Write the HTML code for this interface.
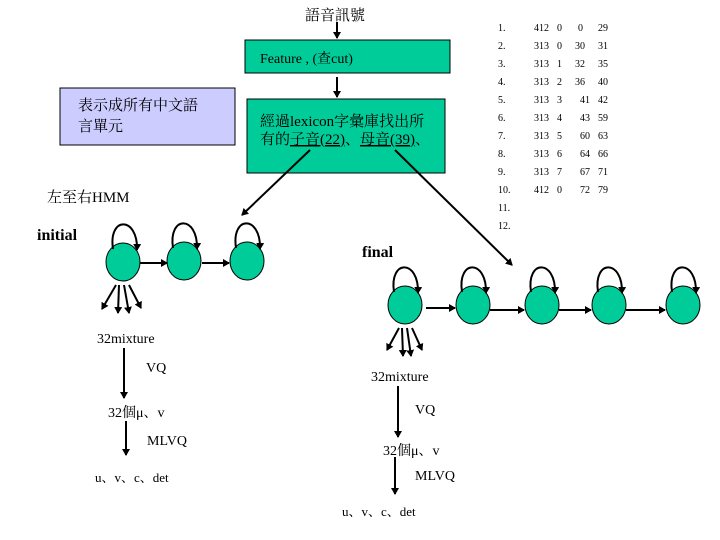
<!DOCTYPE html>
<html><head><meta charset="utf-8"><style>
html,body{margin:0;padding:0;background:#fff;}
svg{display:block;}
text{font-family:"Liberation Serif","Noto Serif CJK SC","Noto Sans CJK TC",serif;fill:#000;}
.t{font-size:10px;}
</style></head><body>
<svg width="720" height="540" viewBox="0 0 720 540" xmlns="http://www.w3.org/2000/svg">
<defs>
<marker id="a" markerWidth="8" markerHeight="8" refX="6" refY="4" orient="auto" markerUnits="userSpaceOnUse"><path d="M0,0 L7,4 L0,8 z" fill="#000"/></marker>
</defs>
<text x="305" y="20" font-size="15">語音訊號</text>
<line x1="337" y1="22" x2="337" y2="38" stroke="#000" stroke-width="2" marker-end="url(#a)"/>
<rect x="245" y="40" width="205" height="33" fill="#00cc99" stroke="#000"/>
<text x="260" y="63" font-size="14">Feature , (查cut)</text>
<line x1="337" y1="77" x2="337" y2="97" stroke="#000" stroke-width="2" marker-end="url(#a)"/>
<rect x="247" y="99" width="198" height="74" fill="#00cc99" stroke="#000"/>
<text x="260" y="126" font-size="15">經過lexicon字彙庫找出所</text>
<text x="260" y="144" font-size="15">有的<tspan text-decoration="underline">子音(22)</tspan>、<tspan text-decoration="underline">母音(39)</tspan>、</text>
<rect x="60" y="88" width="175" height="57" fill="#ccccff" stroke="#000"/>
<text x="78" y="110" font-size="15">表示成所有中文語</text>
<text x="78" y="131" font-size="15">言單元</text>
<line x1="310" y1="150" x2="242" y2="215" stroke="#000" stroke-width="2" marker-end="url(#a)"/>
<line x1="395" y1="150" x2="512" y2="265" stroke="#000" stroke-width="2" marker-end="url(#a)"/>
<text x="47" y="202" font-size="15">左至右HMM</text>
<text x="37" y="240" font-size="16" font-weight="bold">initial</text>
<text x="362" y="257" font-size="16" font-weight="bold">final</text>
<g class="t">
<text x="498" y="31">1.</text><text x="534" y="31">412</text><text x="557" y="31">0</text><text x="583" y="31" text-anchor="end">0</text><text x="598" y="31">29</text>
<text x="498" y="49">2.</text><text x="534" y="49">313</text><text x="557" y="49">0</text><text x="585" y="49" text-anchor="end">30</text><text x="598" y="49">31</text>
<text x="498" y="67">3.</text><text x="534" y="67">313</text><text x="557" y="67">1</text><text x="585" y="67" text-anchor="end">32</text><text x="598" y="67">35</text>
<text x="498" y="85">4.</text><text x="534" y="85">313</text><text x="557" y="85">2</text><text x="585" y="85" text-anchor="end">36</text><text x="598" y="85">40</text>
<text x="498" y="103">5.</text><text x="534" y="103">313</text><text x="557" y="103">3</text><text x="590" y="103" text-anchor="end">41</text><text x="598" y="103">42</text>
<text x="498" y="121">6.</text><text x="534" y="121">313</text><text x="557" y="121">4</text><text x="590" y="121" text-anchor="end">43</text><text x="598" y="121">59</text>
<text x="498" y="139">7.</text><text x="534" y="139">313</text><text x="557" y="139">5</text><text x="590" y="139" text-anchor="end">60</text><text x="598" y="139">63</text>
<text x="498" y="157">8.</text><text x="534" y="157">313</text><text x="557" y="157">6</text><text x="590" y="157" text-anchor="end">64</text><text x="598" y="157">66</text>
<text x="498" y="175">9.</text><text x="534" y="175">313</text><text x="557" y="175">7</text><text x="590" y="175" text-anchor="end">67</text><text x="598" y="175">71</text>
<text x="498" y="193">10.</text><text x="534" y="193">412</text><text x="557" y="193">0</text><text x="590" y="193" text-anchor="end">72</text><text x="598" y="193">79</text>
<text x="498" y="211">11.</text>
<text x="498" y="229">12.</text>
</g>
<g stroke="#000" stroke-width="1" fill="#00cc99">
<ellipse cx="123" cy="262" rx="17" ry="19"/>
<ellipse cx="184" cy="261" rx="17" ry="19"/>
<ellipse cx="247" cy="261" rx="17" ry="19"/>
<ellipse cx="405" cy="305" rx="17" ry="19"/>
<ellipse cx="473" cy="305" rx="17" ry="19"/>
<ellipse cx="542" cy="305" rx="17" ry="19"/>
<ellipse cx="609" cy="305" rx="17" ry="19"/>
<ellipse cx="683" cy="305" rx="17" ry="19"/>
</g>
<g stroke="#000" stroke-width="2" fill="none" marker-end="url(#a)">
<path d="M113,249 C108,216 138,216 137,250"/>
<path d="M173,248 C168,215 198,215 197,249"/>
<path d="M236,248 C231,215 261,215 260,249"/>
<path d="M394,292 C389,259 419,259 418,293"/>
<path d="M462,292 C457,259 487,259 486,293"/>
<path d="M531,292 C526,259 556,259 555,293"/>
<path d="M598,292 C593,259 623,259 622,293"/>
<path d="M672,292 C667,259 697,259 696,293"/>
<line x1="140" y1="263" x2="167" y2="263"/>
<line x1="202" y1="263" x2="229" y2="263"/>
<line x1="426" y1="308" x2="455" y2="308"/>
<line x1="490" y1="310" x2="524" y2="310"/>
<line x1="559" y1="310" x2="591" y2="310"/>
<line x1="626" y1="310" x2="665" y2="310"/>
<line x1="116" y1="285" x2="102" y2="309"/>
<line x1="119" y1="285" x2="118" y2="313"/>
<line x1="124" y1="285" x2="129" y2="313"/>
<line x1="129" y1="285" x2="141" y2="308"/>
<line x1="399" y1="328" x2="387" y2="350"/>
<line x1="402" y1="328" x2="403" y2="356"/>
<line x1="407" y1="328" x2="411" y2="356"/>
<line x1="412" y1="328" x2="422" y2="350"/>
<line x1="124" y1="348" x2="124" y2="398"/>
<line x1="126" y1="421" x2="126" y2="455"/>
<line x1="398" y1="386" x2="398" y2="437"/>
<line x1="395" y1="457" x2="395" y2="494"/>
</g>
<text x="97" y="343" font-size="14">32mixture</text>
<text x="146" y="372" font-size="14">VQ</text>
<text x="108" y="417" font-size="14">32個μ、v</text>
<text x="147" y="445" font-size="14">MLVQ</text>
<text x="95" y="482" font-size="13">u、v、c、det</text>
<text x="371" y="381" font-size="14">32mixture</text>
<text x="415" y="414" font-size="14">VQ</text>
<text x="383" y="455" font-size="14">32個μ、v</text>
<text x="415" y="480" font-size="14">MLVQ</text>
<text x="342" y="516" font-size="13">u、v、c、det</text>
</svg>
</body></html>
